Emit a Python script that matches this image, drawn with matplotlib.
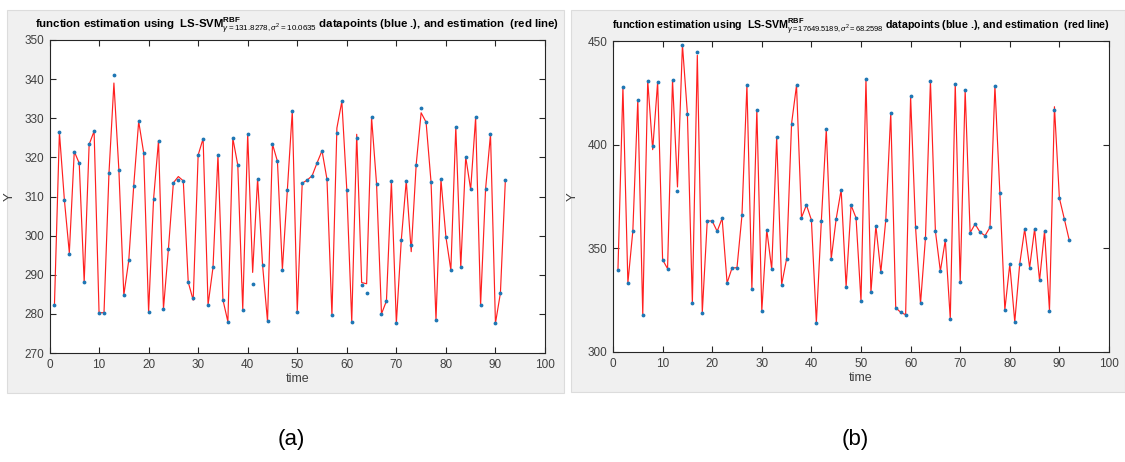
import numpy as np
import matplotlib.pyplot as plt
from matplotlib.patches import Rectangle

plt.rcParams['font.family'] = ['Liberation Sans', 'DejaVu Sans']
plt.rcParams['mathtext.fontset'] = 'custom'
plt.rcParams['mathtext.rm'] = 'Liberation Sans'
plt.rcParams['mathtext.it'] = 'Liberation Sans:italic'
plt.rcParams['mathtext.bf'] = 'Liberation Sans:bold'

# panel (a): datapoints and LS-SVM estimation
ya_data = [282.3, 326.4, 309.2, 295.3, 321.5, 318.5, 288.1, 323.3, 326.7, 280.3,
           280.3, 315.9, 341.0, 316.8, 284.8, 293.7, 312.8, 329.2, 321.2, 280.5,
           309.3, 324.3, 281.3, 296.6, 313.5, 314.2, 314.0, 288.1, 284.1, 320.6,
           324.8, 282.3, 291.9, 320.6, 283.6, 278.0, 324.9, 318.0, 281.1, 326.0,
           287.7, 314.6, 292.5, 278.1, 323.4, 319.0, 291.3, 311.6, 331.9, 280.6,
           313.4, 314.2, 315.3, 318.6, 321.7, 314.4, 279.6, 326.2, 334.3, 311.7,
           278.0, 325.0, 287.4, 285.3, 330.2, 313.3, 280.0, 283.3, 313.9, 277.6,
           298.9, 314.0, 297.7, 318.1, 332.6, 329.0, 313.7, 278.4, 314.4, 299.7,
           291.2, 327.8, 291.9, 320.1, 311.8, 330.2, 282.2, 311.8, 325.9, 277.6,
           285.3, 314.2]
ya_est = [282.3, 326.4, 309.2, 295.6, 321.5, 318.5, 288.1, 323.3, 326.7, 280.3,
          280.3, 315.9, 339.0, 316.8, 284.8, 293.7, 312.8, 329.2, 321.2, 280.5,
          309.3, 324.3, 281.3, 296.6, 313.5, 315.1, 314.0, 288.1, 283.5, 320.6,
          324.8, 282.3, 291.9, 320.6, 283.6, 278.0, 324.9, 318.0, 281.1, 326.0,
          290.6, 314.6, 292.5, 278.1, 323.4, 319.0, 291.3, 311.6, 331.9, 280.6,
          313.4, 314.2, 315.3, 318.6, 321.7, 314.4, 279.6, 327.5, 334.3, 311.7,
          278.0, 325.9, 288.0, 287.7, 330.2, 313.3, 280.0, 283.3, 313.9, 277.6,
          298.9, 314.0, 295.9, 318.1, 331.4, 329.0, 313.7, 278.4, 314.4, 299.7,
          291.2, 327.8, 291.9, 320.1, 311.8, 330.2, 282.2, 311.8, 325.9, 277.6,
          285.3, 314.2]

# panel (b)
yb_data = [339.7, 427.8, 333.3, 358.4, 421.7, 318.0, 430.9, 399.2, 430.2, 344.5,
           340.2, 431.2, 377.8, 448.2, 415.0, 323.6, 444.7, 319.0, 363.2, 363.2,
           358.2, 364.5, 333.3, 340.5, 340.7, 365.9, 428.8, 330.5, 416.9, 319.8,
           359.0, 339.9, 403.7, 332.5, 344.9, 410.1, 428.6, 364.8, 370.9, 363.7,
           314.1, 363.0, 407.4, 344.9, 364.3, 378.3, 331.4, 370.8, 364.7, 324.4,
           431.6, 328.7, 360.9, 338.5, 363.9, 415.3, 321.4, 319.1, 318.0, 423.3,
           360.1, 323.4, 355.1, 430.8, 358.3, 339.0, 354.0, 315.9, 429.5, 333.7,
           426.3, 357.5, 361.7, 357.8, 356.1, 360.1, 428.4, 376.6, 320.4, 342.3,
           314.5, 342.5, 359.3, 340.7, 359.4, 334.5, 358.3, 319.9, 416.9, 374.2,
           364.1, 353.8]
yb_est = [339.7, 427.8, 333.3, 358.4, 421.7, 318.0, 430.9, 397.6, 430.2, 344.5,
          340.2, 431.2, 379.6, 448.2, 415.0, 323.6, 443.1, 319.0, 363.2, 363.2,
          358.2, 364.5, 333.3, 340.5, 340.7, 365.9, 428.8, 330.5, 416.9, 319.8,
          359.0, 339.9, 403.7, 332.5, 344.9, 410.1, 428.6, 364.8, 370.9, 363.7,
          314.1, 363.0, 407.4, 344.9, 364.3, 378.3, 331.4, 370.8, 364.7, 324.4,
          431.6, 328.7, 360.9, 338.5, 363.9, 415.3, 321.4, 319.1, 318.0, 423.3,
          360.1, 323.4, 355.1, 430.8, 358.3, 339.0, 354.0, 315.9, 429.5, 333.7,
          426.3, 357.5, 361.7, 357.8, 356.1, 360.1, 428.4, 376.6, 320.4, 342.3,
          314.5, 342.5, 359.3, 340.7, 359.4, 334.5, 358.3, 319.9, 418.3, 374.2,
          364.1, 353.8]

titles = [r'function estimation using  LS-SVM$^{\mathbf{RBF}}_{\gamma\mathrm{=131.8278,}\sigma^2\mathrm{=10.0635}}$ datapoints (blue .), and estimation  (red line)',
          r'function estimation using  LS-SVM$^{\mathbf{RBF}}_{\gamma\mathrm{=17649.5189,}\sigma^2\mathrm{=68.2598}}$ datapoints (blue .), and estimation  (red line)']
yticks = [np.arange(270, 351, 10), [300, 350, 400, 450]]
ylims = [(270, 350), (300, 450)]
panel_labels = ['(a)', '(b)']

W, H = 1125, 462
fig = plt.figure(figsize=(W / 100, H / 100), dpi=100)
fig.patch.set_facecolor('white')

# grey MATLAB figure backgrounds (pixel boxes: x0, x1, ytop, ybottom)
for x0, x1, yt, yb in [(7, 564, 10, 393), (571, 1125, 10, 392)]:
    fig.add_artist(Rectangle((x0 / W, 1 - yb / H), (x1 - x0) / W, (yb - yt) / H,
                             transform=fig.transFigure, facecolor='#f0f0f0',
                             edgecolor='#dcdcdc', lw=0.8, zorder=0))

boxes = [(49.5, 545, 40, 353), (613, 1109, 41, 352)]
series = [(ya_data, ya_est), (yb_data, yb_est)]
tsizes = [8.2, 7.7]

for k in range(2):
    x0, x1, yt, yb = boxes[k]
    ax = fig.add_axes([x0 / W, 1 - yb / H, (x1 - x0) / W, (yb - yt) / H])
    ax.set_facecolor('white')
    yd, ye = series[k]
    t = np.arange(1, len(yd) + 1)
    ax.plot(t, ye, color='#ff2020', lw=0.85)
    ax.plot(t, yd, linestyle='None', marker='.', color='#1f77b4', markersize=3.5)
    ax.set_xlim(0, 100)
    ax.set_ylim(*ylims[k])
    ax.set_xticks(np.arange(0, 101, 10))
    ax.set_yticks(yticks[k])
    ax.tick_params(direction='in', length=4, width=0.8, top=True, right=True,
                   labelsize=8.5, colors='#262626', labelcolor='#404040', pad=4)
    for s in ax.spines.values():
        s.set_color('#262626')
        s.set_linewidth(0.8)
    ax.set_xlabel('time', fontsize=9, color='#404040', labelpad=2)
    ax.set_ylabel('Y', fontsize=9.5, color='#404040', labelpad=6)
    ax.set_title(titles[k], fontsize=tsizes[k], fontweight='bold', color='black', pad=8)
    fig.text(((x0 + x1) / 2 - 6) / W, 1 - 440 / H, panel_labels[k], fontsize=16,
             ha='center', va='center', color='black')

plt.savefig('out.png', dpi=100)
